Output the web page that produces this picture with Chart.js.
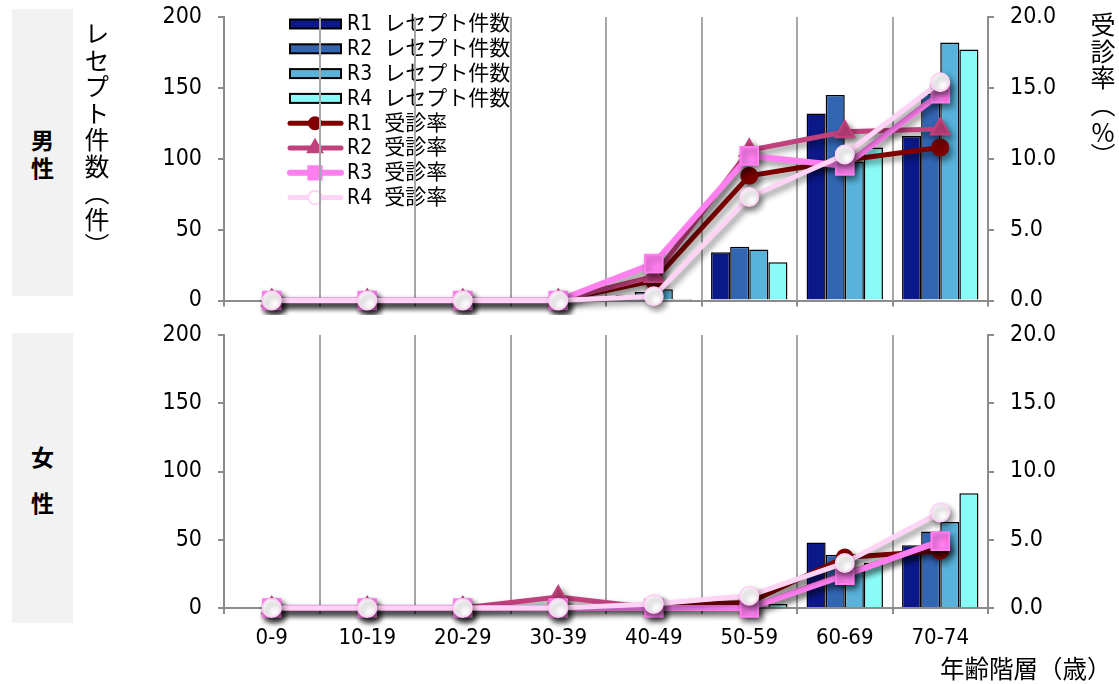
<!DOCTYPE html>
<html lang="ja">
<head>
<meta charset="utf-8">
<title>性別・年齢階層別 レセプト件数と受診率</title>
<script src="https://cdn.jsdelivr.net/npm/chart.js@4.4.1/dist/chart.umd.min.js"></script>
<style>
  html, body { margin: 0; padding: 0; background: #fff; }
  body { width: 1119px; height: 684px; position: relative; overflow: hidden;
         font-family: "Noto Sans CJK JP", sans-serif; color: #000; }
  .panel { position: absolute; left: 0; }
  .sexbox { position: absolute; left: 12px; width: 61px; background: #f2f2f2; }
  .sexchar { position: absolute; left: 12px; width: 61px; text-align: center;
             font-size: 23px; font-weight: bold; line-height: 1; }
  .vtitle { position: absolute; writing-mode: vertical-rl; font-size: 25px; line-height: 1; white-space: nowrap; }
  .xtitle { position: absolute; font-size: 24.5px; line-height: 1; white-space: nowrap; }
</style>
</head>
<body>
  <div class="sexbox" style="top:9px;height:287px"></div>
  <div class="sexchar" style="top:128px">男</div>
  <div class="sexchar" style="top:156px">性</div>
  <div class="sexbox" style="top:333px;height:290px"></div>
  <div class="sexchar" style="top:445px">女</div>
  <div class="sexchar" style="top:491px">性</div>

  <canvas id="male" class="panel" style="top:0" width="1119" height="315"></canvas>
  <canvas id="female" class="panel" style="top:318px" width="1119" height="366"></canvas>

  <div class="vtitle" style="left:84px;top:21px;letter-spacing:1.5px">レセプト件数（件）</div>
  <div class="vtitle" style="left:1090px;top:12px;letter-spacing:1.5px">受診率（<span style="text-combine-upright:all">%</span>）</div>
  <div class="xtitle" style="left:940px;top:656px">年齢階層（歳）</div>

<script>
// ---- data ----
const ageGroups = ['0-9', '10-19', '20-29', '30-39', '40-49', '50-59', '60-69', '70-74'];
const countTicks = [0, 50, 100, 150, 200];
const rateTicks = [0, 5, 10, 15, 20];

// 男性 レセプト件数
const maleCountR1 = [0, 0, 0, 0, 4, 34, 132, 116];
const maleCountR2 = [0, 0, 0, 0, 6, 38, 145, 146];
const maleCountR3 = [0, 0, 0, 0, 8, 36, 98, 182];
const maleCountR4 = [0, 0, 0, 0, 1, 27, 108, 177];
// 男性 受診率 (%)
const maleRateR1 = [0, 0, 0, 0, 1.4, 8.8, 9.9, 10.8];
const maleRateR2 = [0, 0, 0, 0, 1.7, 10.6, 11.9, 12.1];
const maleRateR3 = [0, 0, 0, 0, 2.6, 10.2, 9.5, 14.6];
const maleRateR4 = [0, 0, 0, 0, 0.3, 7.3, 10.3, 15.4];

// 女性 レセプト件数
const femaleCountR1 = [0, 0, 0, 0, 0, 1, 48, 46];
const femaleCountR2 = [0, 0, 0, 0, 0, 0, 39, 56];
const femaleCountR3 = [0, 0, 0, 0, 0, 1, 27, 63];
const femaleCountR4 = [0, 0, 0, 0, 0, 3, 33, 84];
// 女性 受診率 (%)
const femaleRateR1 = [0, 0, 0, 0, 0.2, 0.4, 3.7, 4.2];
const femaleRateR2 = [0, 0, 0, 0.8, 0, 0, 2.5, 4.8];
const femaleRateR3 = [0, 0, 0, 0, 0, 0, 2.4, 4.9];
const femaleRateR4 = [0, 0, 0, 0, 0.3, 0.9, 3.3, 7.0];

// ---- styles ----
const NUM_FONT = '"DejaVu Sans Condensed", "Liberation Sans Narrow", "Noto Sans CJK JP", sans-serif';
const barColors = ['#0b1887', '#3266b3', '#58b2da', '#8afcf7'];
const lineStyles = [
  { color: '#800000', fill: '#800000', point: 'circle',   radius: 8,  width: 5 },
  { color: '#c0417c', fill: '#c0417c', point: 'triangle', radius: 11, width: 5 },
  { color: '#ff7ef0', fill: '#ff7ef0', point: 'rect',     radius: 12.5, width: 6 },
  { color: '#ffd3f5', fill: '#ffffff', point: 'circle',   radius: 9,  width: 5 }
];
const AXIS_GRAY = '#8c8c8c';
const GRID_GRAY = '#a6a6a6';

Chart.defaults.font.family = NUM_FONT;
Chart.defaults.font.size = 23;
Chart.defaults.color = '#000';

function buildDatasets(counts, rates) {
  const ds = [];
  counts.forEach((data, i) => {
    ds.push({
      type: 'bar', label: 'R' + (i + 1) + ' レセプト件数', data,
      backgroundColor: barColors[i], borderColor: '#000', borderWidth: 1.5,
      yAxisID: 'y', order: 10 + i, categoryPercentage: 0.8, barPercentage: 1.0
    });
  });
  rates.forEach((data, i) => {
    const s = lineStyles[i];
    ds.push({
      type: 'line', label: 'R' + (i + 1) + ' 受診率', data,
      borderColor: s.color, backgroundColor: s.fill, borderWidth: s.width,
      pointStyle: s.point, pointRadius: s.radius, pointHoverRadius: s.radius,
      pointBackgroundColor: s.fill, pointBorderColor: s.color, pointBorderWidth: 2,
      yAxisID: 'y1', order: 4 - i, clip: false, tension: 0, fill: false
    });
  });
  return ds;
}

// soft drop shadow under the rate lines and their markers
const lineShadow = {
  id: 'lineShadow',
  beforeDatasetDraw(chart, args) {
    if (args.meta.type !== 'line') return;
    const c = chart.ctx;
    c.save();
    c.shadowColor = 'rgba(0,0,0,0.45)';
    c.shadowBlur = 6;
    c.shadowOffsetX = 3;
    c.shadowOffsetY = 4;
  },
  afterDatasetDraw(chart, args) {
    if (args.meta.type !== 'line') return;
    chart.ctx.restore();
  }
};

function marker(ctx, style, r, x, y) {
  ctx.beginPath();
  if (style === 'circle') {
    ctx.arc(x, y, r, 0, Math.PI * 2);
  } else if (style === 'triangle') {
    ctx.moveTo(x, y - r);
    ctx.lineTo(x + r * 0.866, y + r * 0.5);
    ctx.lineTo(x - r * 0.866, y + r * 0.5);
    ctx.closePath();
  } else {
    const h = r * Math.SQRT1_2;
    ctx.rect(x - h, y - h, 2 * h, 2 * h);
  }
  ctx.fill();
  ctx.stroke();
}

// legend drawn inside the plot, beneath the grid lines
const inlineLegend = {
  id: 'inlineLegend',
  beforeDraw(chart, args, opts) {
    if (!opts.show) return;
    const ctx = chart.ctx;
    chart.data.datasets.forEach((ds, i) => {
      const y = opts.y + i * opts.gap;
      const x = opts.x;
      ctx.save();
      if (ds.type === 'bar') {
        ctx.fillStyle = ds.backgroundColor;
        ctx.strokeStyle = '#000';
        ctx.lineWidth = 2;
        ctx.fillRect(x + 2, y - 4.5, 51, 9);
        ctx.strokeRect(x + 2, y - 4.5, 51, 9);
      } else {
        ctx.strokeStyle = ds.borderColor;
        ctx.lineWidth = ds.borderWidth;
        ctx.lineCap = 'round';
        ctx.beginPath();
        ctx.moveTo(x + 2, y);
        ctx.lineTo(x + 53, y);
        ctx.stroke();
        ctx.fillStyle = ds.pointBackgroundColor;
        ctx.strokeStyle = ds.pointBorderColor;
        ctx.lineWidth = 2;
        marker(ctx, ds.pointStyle, ds.pointRadius * 0.75, x + 27, y);
      }
      ctx.fillStyle = '#000';
      ctx.font = '21px ' + NUM_FONT;
      ctx.textBaseline = 'middle';
      ctx.textAlign = 'left';
      ctx.fillText(ds.label.replace(' ', '  '), x + 59, y + 1);
      ctx.restore();
    });
  }
};

// the axes keep the plot rectangle fixed; label overhang does not shrink it
function noVerticalPad(s) { s.paddingTop = 0; s.paddingBottom = 0; }
function noHorizontalPad(s) { s.paddingLeft = 0; s.paddingRight = 0; }

function makeChart(id, counts, rates, opts) {
  const canvas = document.getElementById(id);
  return new Chart(canvas, {
    data: { labels: ageGroups, datasets: buildDatasets(counts, rates) },
    plugins: [lineShadow, inlineLegend],
    options: {
      responsive: false,
      animation: false,
      events: [],
      layout: { padding: { top: 17, left: 0, right: 0, bottom: 0 } },
      plugins: {
        legend: { display: false },
        tooltip: { enabled: false },
        inlineLegend: { show: opts.legend, x: 288, y: 24, gap: 24.8 }
      },
      scales: {
        x: {
          offset: true,
          grid: { offset: true, display: true, drawOnChartArea: true, color: GRID_GRAY,
                  lineWidth: 2, tickLength: 6, tickColor: AXIS_GRAY },
          border: { display: true, color: AXIS_GRAY, width: 2 },
          ticks: { display: opts.xLabels, padding: 11, font: { size: 22 }, maxRotation: 0, autoSkip: false },
          afterFit: s => { s.height = opts.xHeight; noHorizontalPad(s); }
        },
        y: {
          position: 'left', min: 0, max: 200,
          afterBuildTicks: s => { s.ticks = countTicks.map(v => ({ value: v })); },
          grid: { drawOnChartArea: false, tickLength: 6, color: AXIS_GRAY, lineWidth: 2 },
          border: { display: true, color: AXIS_GRAY, width: 2 },
          ticks: { padding: 16, callback: v => String(v) },
          afterFit: s => { s.width = 224; noVerticalPad(s); }
        },
        y1: {
          position: 'right', min: 0, max: 20,
          afterBuildTicks: s => { s.ticks = rateTicks.map(v => ({ value: v })); },
          grid: { drawOnChartArea: false, tickLength: 6, color: AXIS_GRAY, lineWidth: 2 },
          border: { display: true, color: AXIS_GRAY, width: 2 },
          ticks: { padding: 16, callback: v => Number(v).toFixed(1) },
          afterFit: s => { s.width = 131; noVerticalPad(s); }
        }
      }
    }
  });
}

makeChart('male',
  [maleCountR1, maleCountR2, maleCountR3, maleCountR4],
  [maleRateR1, maleRateR2, maleRateR3, maleRateR4],
  { legend: true, xLabels: false, xHeight: 13 });

makeChart('female',
  [femaleCountR1, femaleCountR2, femaleCountR3, femaleCountR4],
  [femaleRateR1, femaleRateR2, femaleRateR3, femaleRateR4],
  { legend: false, xLabels: true, xHeight: 76 });
</script>
</body>
</html>
